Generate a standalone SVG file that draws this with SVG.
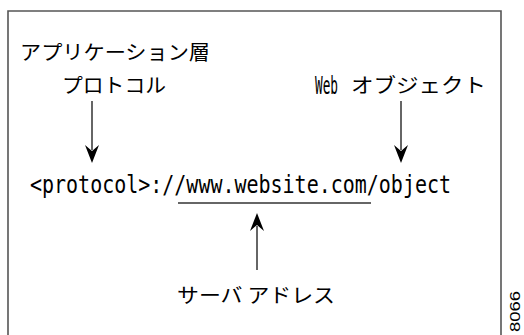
<svg xmlns="http://www.w3.org/2000/svg" width="524" height="335" viewBox="0 0 524 335">
<defs>
<style>
.jp{font-family:"Noto Sans CJK JP","Noto Sans",sans-serif;font-size:20px;fill:#000}
.mono{font-family:"DejaVu Sans Mono","Liberation Mono",monospace;font-size:24px;fill:#000}
.ln{stroke:#333;stroke-width:1.5;fill:none}
.head{fill:#000}
.frame{stroke:#555;stroke-width:1.6;fill:none}
</style>
</defs>
<path class="frame" d="M8,340 V11 H501 V340"/>
<g id="app-layer"><text class="jp" x="20" y="60" textLength="190" lengthAdjust="spacingAndGlyphs">アプリケーション層</text></g>
<g id="protocol-label"><text class="jp" x="62" y="93" textLength="104" lengthAdjust="spacingAndGlyphs">プロトコル</text></g>
<g id="web-object-label"><text class="mono" x="315" y="94" textLength="23" lengthAdjust="spacingAndGlyphs">Web</text><text class="jp" x="351" y="93" textLength="135" lengthAdjust="spacingAndGlyphs">オブジェクト</text></g>
<g id="url"><text class="mono" x="30" y="193" textLength="421" lengthAdjust="spacingAndGlyphs">&lt;protocol&gt;://www.website.com/object</text><line class="ln" x1="178" y1="203" x2="371" y2="203"/></g>
<g id="server-label"><text class="jp" x="177" y="303" textLength="158" lengthAdjust="spacingAndGlyphs">サーバ アドレス</text></g>
<g id="connectors">
<line class="ln" x1="92" y1="101" x2="92" y2="150"/>
<polygon class="head" points="92,163 85,145 92,151 99,145"/>
<line class="ln" x1="401" y1="101" x2="401" y2="150"/>
<polygon class="head" points="401,163 394,145 401,151 408,145"/>
<line class="ln" x1="257" y1="226" x2="257" y2="270"/>
<polygon class="head" points="257,213 250,231 257,225 264,231"/>
</g>
<text x="520" y="332" transform="rotate(-90 520 332)" font-family="Liberation Sans,Arial,sans-serif" font-size="14" textLength="41" lengthAdjust="spacingAndGlyphs">8066</text>
</svg>
